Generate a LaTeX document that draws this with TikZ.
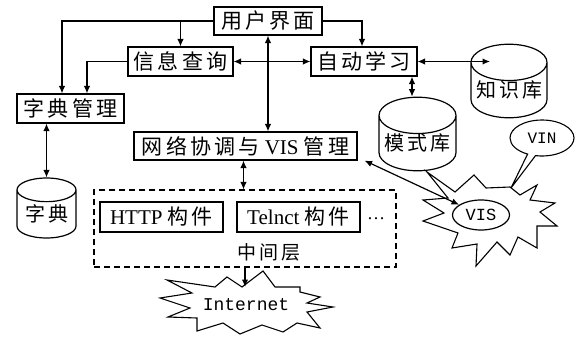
\documentclass[tikz,border=0pt]{standalone}
\usepackage{fontspec}
\setmainfont{Liberation Serif}
\newfontfamily\cjk{Noto Sans CJK SC}[LetterSpace=15]
\newfontfamily\tyfont{Liberation Mono}
\usetikzlibrary{shapes.geometric,shapes.callouts,arrows.meta}

\begin{document}
\begin{tikzpicture}[x=1pt,y=-1pt,
  every node/.style={inner sep=0pt},
  lbox/.style={draw, line width=1.2pt, minimum height=28pt,
    font=\fontsize{21}{24}\selectfont},
  db/.style={draw, line width=1.2pt, cylinder, shape border rotate=90,
    aspect=0.55, anchor=shape center, font=\fontsize{20}{24}\selectfont},
  tip/.tip={Latex[length=7.5pt,width=6.5pt]},
  link/.style={line width=1.2pt, -tip},
  link2/.style={line width=1.2pt, tip-tip},
  burst/.style={draw, line width=1.1pt, line join=miter},
]
\fill[white] (0,0) rectangle (578,337);
\useasboundingbox (0,0) rectangle (578,337);

% boxes of the upper layers
\node[lbox, minimum width=108pt] (ui) at (268,21) {\cjk 用户界面};
\node[lbox, minimum width=105pt, minimum height=29pt] (query) at (180.5,61.5) {\cjk 信息查询};
\node[lbox, minimum width=106pt, minimum height=29pt] (learn) at (364,61.5) {\cjk 自动学习};
\node[lbox, minimum width=107pt, minimum height=29pt] (dictmgr) at (70.5,108.5) {\cjk 字典管理};
\node[lbox, minimum width=223pt] (net) at (245.5,146) {{\cjk 网络协调与} VIS {\cjk 管理}};

% databases
\node[db, minimum width=76pt, minimum height=62pt] (kb) at (509,81) {\cjk 知识库};
\node[db, minimum width=77pt, minimum height=62pt] (pat) at (417.5,134) {\cjk 模式库};
\node[db, minimum width=59pt, minimum height=60pt] (dict) at (46.5,208) {\cjk 字典};

% middle layer
\node[draw, dashed, dash pattern=on 6pt off 4pt, line width=1.2pt,
  minimum width=302pt, minimum height=77pt] (mid) at (245,228.5) {};
\node[lbox, minimum width=123pt, minimum height=30pt] (http) at (161.5,217) {HTTP {\cjk 构件}};
\node[lbox, minimum width=123pt, minimum height=30pt] (telnet) at (298.5,217) {Telnct {\cjk 构件}};
\node[font=\fontsize{18}{20}\selectfont] (more) at (376,219) {\ldots};
\node[font=\fontsize{19}{22}\selectfont] (midlbl) at (269,252) {\cjk 中间层};

% Internet cloud
\node[font=\tyfont\fontsize{18}{20}\selectfont] (inet) at (246,305) {Internet};
\draw[burst] (160,298) -- (192,293) -- (167,280) -- (215,287) -- (227,277)
  -- (242,287) -- (263,271) -- (275,287) -- (300,287) -- (300,292)
  -- (320,297) -- (307,303) -- (333,307) -- (307,312) -- (320,328)
  -- (297,323) -- (283,332) -- (262,325) -- (240,334) -- (223,323)
  -- (197,331) -- (197,318) -- (168,317) -- (190,308) -- cycle;
\coordinate (inettop) at (245,287);

% VIS burst with its ellipse
\draw[burst] (427,172) -- (455,192) -- (474,175) -- (486,188) -- (510,187)
  -- (520,195) -- (537,185) -- (530,200) -- (555,203) -- (540,212)
  -- (557,226) -- (537,226) -- (537,248) -- (518,237) -- (510,255)
  -- (497,242) -- (476,266) -- (477,244) -- (452,248) -- (458,233)
  -- (423,221) -- (444,213) -- (423,200) -- (448,198) -- cycle;
\node[draw, ellipse, fill=white, line width=1.2pt, minimum width=57pt,
  minimum height=30pt, font=\tyfont\fontsize{17}{18}\selectfont] (vis) at (481,215) {VIS};
\node[draw, ellipse callout, fill=white, line width=1.1pt, minimum width=64pt,
  minimum height=36pt, callout absolute pointer={(511,188)},
  font=\tyfont\fontsize{16}{18}\selectfont] (vin) at (542,138) {VIN};

% connectors
\draw[link] (ui.west) -| ([xshift=-8.5pt]dictmgr.north);
\draw[link] (ui.west -| query.north) -- (query.north);
\draw[link] (query.west) -| ([xshift=16.5pt]dictmgr.north);
\draw[link] (ui.east) -| ([xshift=-2pt]learn.north);
\draw[link2] (query.east) -- (learn.west);
\draw[link2] (ui.south) -- (ui.south |- net.north);
\coordinate (kbin) at (490,61.5);
\draw[link2] (learn.east) -- (kbin);
\draw[link2] ([xshift=48pt]learn.south) -- ([xshift=48pt]learn.south |- pat.north);
\draw[link2] (dictmgr.south -| dict.north) -- (dict.north);
\draw[link2] ([xshift=-2pt]net.south) -- ([xshift=-2pt]net.south |- mid.north);
\draw[link2] ([xshift=7pt]net.south east) -- (vis.155);
\draw[link] (mid.south -| inettop) -- (inettop);
\end{tikzpicture}
\end{document}
